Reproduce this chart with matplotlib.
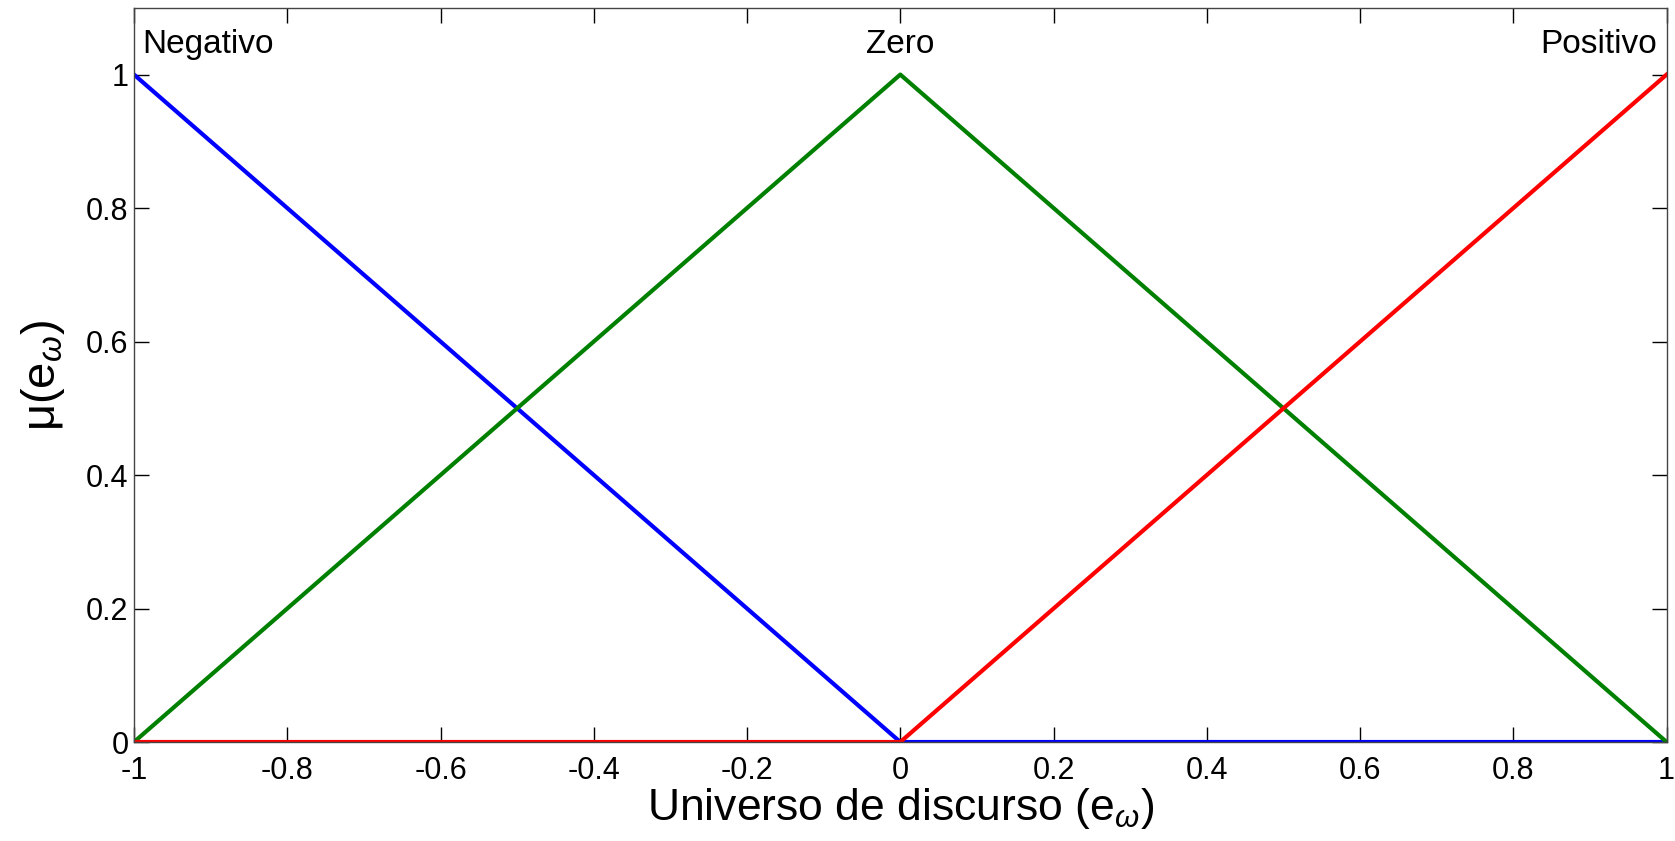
import matplotlib
matplotlib.use('Agg')
import matplotlib.pyplot as plt

# membership functions of the error (fuzzy sets)
x_points = [-1.0, 0.0, 1.0]
mu_negativo = [1.0, 0.0, 0.0]
mu_zero = [0.0, 1.0, 0.0]
mu_positivo = [0.0, 0.0, 1.0]

set_names = ['Negativo', 'Zero', 'Positivo']
set_label_x = [-1.0, 0.0, 1.0]

x_ticks = [-1, -0.8, -0.6, -0.4, -0.2, 0, 0.2, 0.4, 0.6, 0.8, 1]
x_tick_labels = ['-1', '-0.8', '-0.6', '-0.4', '-0.2', '0', '0.2', '0.4', '0.6', '0.8', '1']
y_ticks = [0, 0.2, 0.4, 0.6, 0.8, 1]
y_tick_labels = ['0', '0.2', '0.4', '0.6', '0.8', '1']

plt.rcParams['font.family'] = ['Liberation Sans', 'DejaVu Sans']
plt.rcParams['mathtext.fontset'] = 'custom'
plt.rcParams['mathtext.rm'] = 'Liberation Sans'
plt.rcParams['mathtext.it'] = 'Liberation Sans:italic'
plt.rcParams['axes.unicode_minus'] = False

fig = plt.figure(figsize=(16.75, 8.41), dpi=100)
ax = fig.add_axes([0.080, 0.1177, 0.915, 0.873])

ax.plot(x_points, mu_negativo, color=(0, 0, 1), lw=3)
ax.plot(x_points, mu_zero, color=(0, 0.5, 0), lw=3)
ax.plot(x_points, mu_positivo, color=(1, 0, 0), lw=3)

ax.set_xlim(-1, 1)
ax.set_ylim(0, 1.1)
ax.set_xticks(x_ticks)
ax.set_xticklabels(x_tick_labels)
ax.set_yticks(y_ticks)
ax.set_yticklabels(y_tick_labels)
ax.tick_params(direction='in', length=10.5, width=1, labelsize=22,
               top=True, right=True, pad=4)
ax.tick_params(axis='x', pad=10)
for s in ax.spines.values():
    s.set_color('#444444')
    s.set_linewidth(1)

ax.annotate(set_names[0], (set_label_x[0], 1.032), xytext=(6, 0), textcoords='offset points',
            ha='left', va='baseline', fontsize=24)
ax.annotate(set_names[1], (set_label_x[1], 1.032), ha='center', va='baseline', fontsize=24)
ax.annotate(set_names[2], (set_label_x[2], 1.032), xytext=(-7, 0), textcoords='offset points',
            ha='right', va='baseline', fontsize=24)

ax.set_xlabel(r'Universo de discurso (e$_{\omega}$)', fontsize=32, labelpad=0)
ax.set_ylabel(r'μ(e$_{\omega}$)', fontsize=34, labelpad=14)

fig.savefig('out.png', dpi=100)
